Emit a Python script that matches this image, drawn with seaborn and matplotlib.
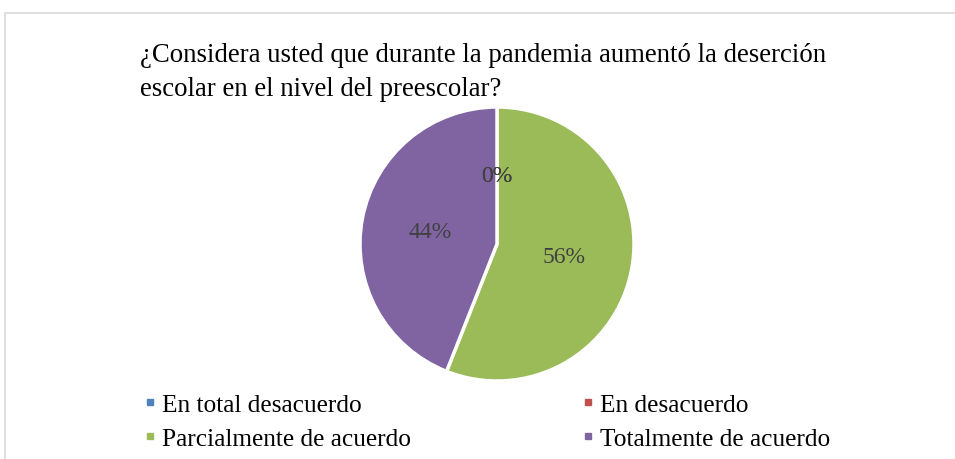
import matplotlib
matplotlib.use("Agg")
import matplotlib.pyplot as plt
from matplotlib.lines import Line2D
from matplotlib.patches import Rectangle
import seaborn as sns

# data
categories = ["En total desacuerdo", "En desacuerdo",
              "Parcialmente de acuerdo", "Totalmente de acuerdo"]
values = [0, 0, 56, 44]
colors = ["#4F81BD", "#C0504D", "#9BBB59", "#8064A2"]
title = "¿Considera usted que durante la pandemia aumentó la deserción\nescolar en el nivel del preescolar?"

sns.set_style("white")
plt.rcParams["font.family"] = ["Liberation Serif", "DejaVu Serif"]
palette = sns.color_palette(colors)

W, H = 955, 460
fig = plt.figure(figsize=(W / 100, H / 100), dpi=100)

# chart frame
fig.patches.append(Rectangle((5 / W, -0.05), 1.2, 1 - 14 / H + 0.05,
                             transform=fig.transFigure, fill=False,
                             edgecolor="#D9D9D9", linewidth=1.2))

# pie axes: center (497,245), radius ~137 px
r = 137
cx, cy = 497, 245
ax = fig.add_axes([(cx - r) / W, (H - cy - r) / H, 2 * r / W, 2 * r / H])
wedges, texts, autotexts = ax.pie(
    values, colors=palette, startangle=90, counterclock=False,
    autopct="%.0f%%", pctdistance=0.5, radius=1.0,
    wedgeprops=dict(edgecolor="white", linewidth=2.5),
    textprops=dict(color="#404040", fontsize=17))
ax.set_xlim(-1, 1)
ax.set_ylim(-1, 1)
ax.set_aspect("equal")
ax.axis("off")

fig.text(140 / W, 1 - 43 / H, title, ha="left", va="top",
         fontsize=19.3, color="black", linespacing=1.45)

handles = [Line2D([0], [0], marker="s", linestyle="none", markersize=5,
                  markerfacecolor=c, markeredgecolor=c) for c in palette]
order = [0, 2, 1, 3]
fig.legend([handles[i] for i in order], [categories[i] for i in order],
           ncol=2, mode="expand", frameon=False, fontsize=18.3,
           labelcolor="black",
           bbox_to_anchor=(144 / W, 1 - 451 / H, (830 - 144) / W, 60 / H),
           loc="lower left", handlelength=0.45, handletextpad=0.25,
           labelspacing=0.45, borderaxespad=0, borderpad=0)

fig.savefig("out.png", dpi=100)
